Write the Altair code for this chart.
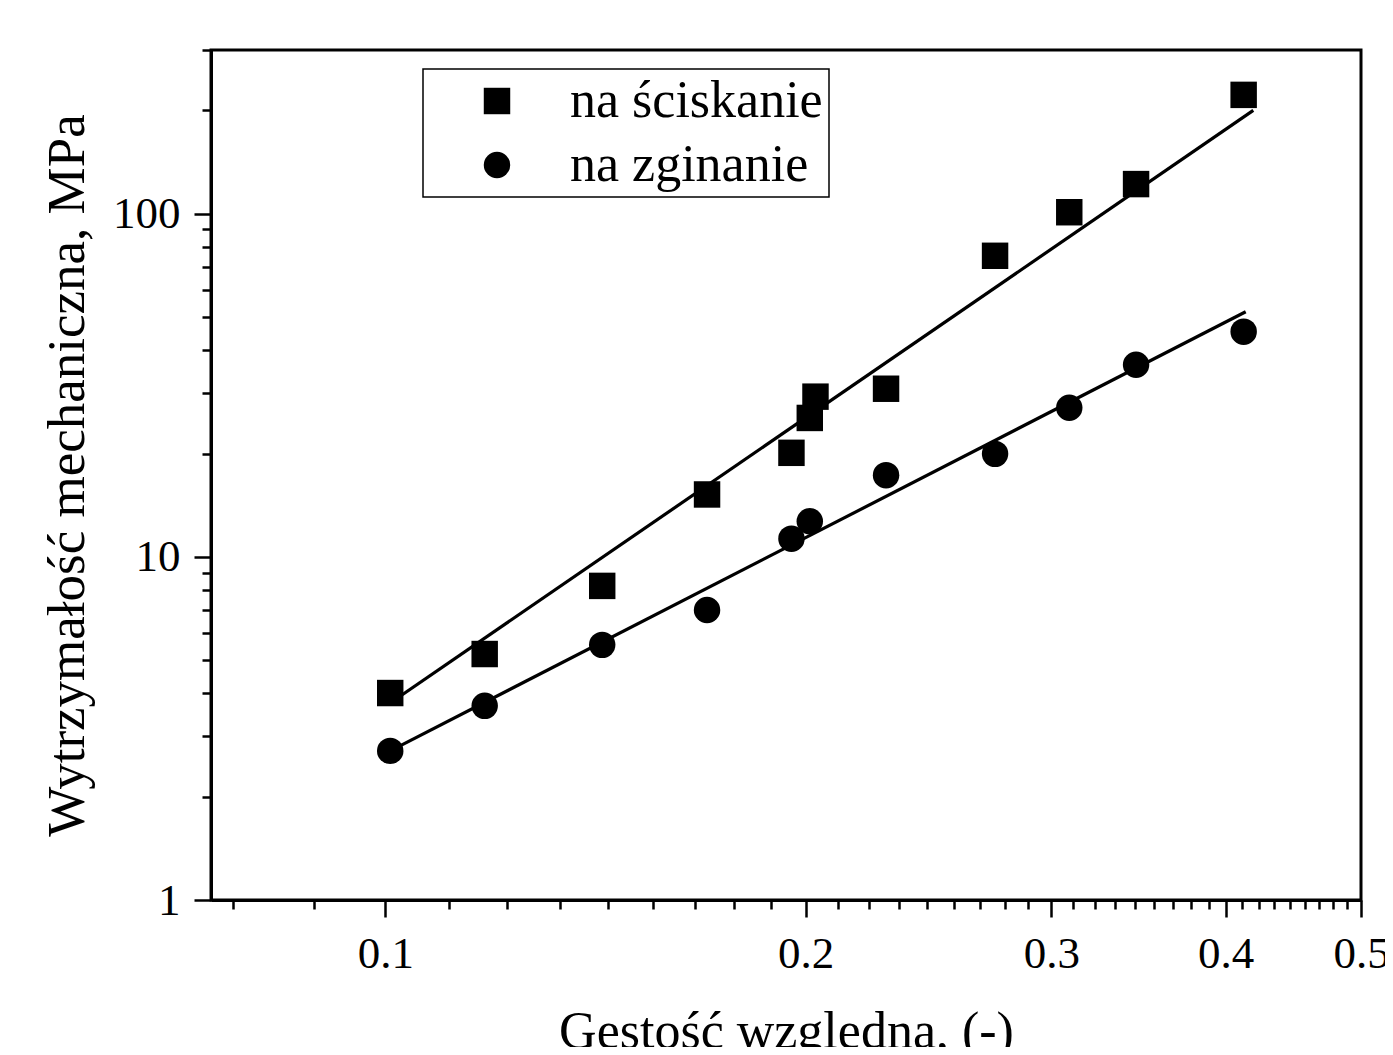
import altair as alt
import pandas as pd

# --- data ---
sq_x = [0.1008, 0.1178, 0.143, 0.170, 0.1954, 0.2014, 0.2033, 0.2284, 0.2734, 0.309, 0.345, 0.412]
sq_y = [4.01, 5.21, 8.23, 15.2, 20.1, 25.4, 29.3, 30.9, 75.4, 101, 122, 222]
ci_x = [0.1008, 0.1178, 0.143, 0.170, 0.1954, 0.2014, 0.2284, 0.2734, 0.309, 0.345, 0.412]
ci_y = [2.72, 3.68, 5.54, 7.0, 11.3, 12.7, 17.3, 19.96, 27.2, 36.3, 45.3]

fit_sq_x = [0.1008, 0.4186]
fit_sq_y = [3.75, 200]
fit_ci_x = [0.1008, 0.4134]
fit_ci_y = [2.72, 51.8]

series_names = ["na ściskanie", "na zginanie"]

x_major = [0.1, 0.2, 0.3, 0.4, 0.5]
y_major = [1, 10, 100]

# axis tick positions (minor ticks: 8 per interval between majors)
x_minor = [round(0.1 - k * 0.1 / 9, 6) for k in (1, 2)]
for a in (0.1, 0.2, 0.3, 0.4):
    x_minor += [round(a + k * 0.1 / 9, 6) for k in range(1, 9)]
x_ticks = sorted(x_major + x_minor)
y_ticks = [m * d for d in (1, 10) for m in range(1, 10)] + [100, 200, 300]

pts = pd.DataFrame(
    {"x": sq_x + ci_x,
     "y": sq_y + ci_y,
     "s": [series_names[0]] * len(sq_x) + [series_names[1]] * len(ci_x)}
)
fits = pd.DataFrame(
    {"x": fit_sq_x + fit_ci_x,
     "y": fit_sq_y + fit_ci_y,
     "s": [series_names[0]] * 2 + [series_names[1]] * 2}
)

FONT = "Liberation Serif"

x_enc = alt.X(
    "x:Q",
    scale=alt.Scale(type="log", domain=[0.075, 0.5], nice=False),
    axis=alt.Axis(
        title="Gęstość względna, (-)",
        values=x_ticks,
        labelExpr="abs(datum.value*10 - round(datum.value*10)) < 1e-6 ? format(datum.value, '.1f') : ''",
        tickSize={"condition": {"test": "abs(datum.value*10 - round(datum.value*10)) < 1e-6", "value": 17}, "value": 9},
        grid=False,
        domainColor="black", domainWidth=3,
        tickColor="black", tickWidth=2.5,
        labelFont=FONT, labelFontSize=45, labelColor="black", labelPadding=14,
        labelOverlap=False, labelFlush=False,
        titleFont=FONT, titleFontSize=52, titleFontWeight="normal", titleColor="black",
        titlePadding=30,
    ),
)
y_enc = alt.Y(
    "y:Q",
    scale=alt.Scale(type="log", domain=[1, 300], nice=False),
    axis=alt.Axis(
        title="Wytrzymałość mechaniczna, MPa",
        values=y_ticks,
        labelExpr="(datum.value == 1 || datum.value == 10 || datum.value == 100) ? ('' + datum.value) : ''",
        tickSize={"condition": {"test": "datum.value == 1 || datum.value == 10 || datum.value == 100", "value": 17}, "value": 9},
        grid=False,
        domainColor="black", domainWidth=3,
        tickColor="black", tickWidth=2.5,
        labelFont=FONT, labelFontSize=45, labelColor="black", labelPadding=14,
        labelOverlap=False, labelFlush=False,
        titleFont=FONT, titleFontSize=53, titleFontWeight="normal", titleColor="black",
        titlePadding=18,
    ),
)

lines = alt.Chart(fits).mark_line(color="black", strokeWidth=3.2).encode(
    x=x_enc, y=y_enc, detail="s:N"
)

points = alt.Chart(pts).mark_point(filled=True, color="black", opacity=1, size=700).encode(
    x=x_enc,
    y=y_enc,
    shape=alt.Shape(
        "s:N",
        title=None,
        scale=alt.Scale(domain=series_names, range=["square", "circle"]),
        legend=alt.Legend(
            orient="none", legendX=212, legendY=19,
            strokeColor="black", fillColor="white",
            padding=6, symbolOffset=42, symbolSize=700,
            symbolFillColor="black", symbolStrokeColor="black", symbolOpacity=1,
            labelFont=FONT, labelFontSize=52, labelColor="black", labelOffset=47,
            rowPadding=12, labelLimit=0,
        ),
    ),
)

chart = (
    alt.layer(lines, points)
    .properties(
        width=1150, height=850,
        background="white",
        autosize=alt.AutoSizeParams(type="none"),
        padding={"left": 203, "top": 42, "right": 24, "bottom": 147},
    )
    .configure_view(stroke="black", strokeWidth=3)
    .configure_legend(strokeWidth=1.5)
)

chart.save("out.html", embed_options={"renderer": "svg", "actions": False})
